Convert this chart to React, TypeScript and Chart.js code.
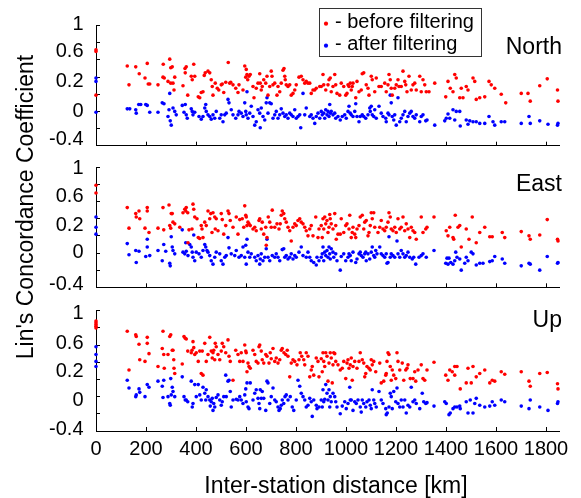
import React, { useEffect, useRef } from 'react';
import { Chart, registerables } from 'chart.js';

Chart.register(...registerables);

// ---------------- data (distance km, Lin's concordance coefficient) ----------------
const panelNames = ['North', 'East', 'Up'];
const seriesNames = ['before filtering', 'after filtering'];

const xTicks = [0, 200, 400, 600, 800, 1000, 1200, 1400, 1600, 1800];
const xTickLabels = ['0', '200', '400', '600', '800', '1000', '1200', '1400', '1600', '1800'];
const yTicks = [-0.4, -0.2, 0, 0.2, 0.4, 0.6, 0.8, 1];
const yTickLabels = ['1', '0.6', '0.2', '0', '-0.4'];

const northBefore = [
  [0,0.72],[0,0.70],[0,0.19],
  [125,0.53],[132,0.31],[159,0.52],[173,0.44],[196,0.39],[205,0.56],[209,0.32],[215,0.32],[248,0.31],[269,0.55],[268,0.40],[273,0.39],[288,0.35],[295,0.61],[299,0.51],[305,0.52],[299,0.33],[308,0.33],[312,0.25],[315,0.40],[348,0.30],[356,0.50],[357,0.45],[361,0.52],[367,0.19],[381,0.41],[385,0.37],[391,0.55],[395,0.41],[409,0.17],[415,0.16],[421,0.22],[428,0.23],[433,0.42],[437,0.45],[448,0.47],[455,0.45],[461,0.37],[465,0.29],[468,0.19],[477,0.33],[485,0.27],[491,0.25],[501,0.31],[505,0.32],[511,0.22],[519,0.34],[529,0.57],[535,0.33],[539,0.34],[548,0.31],[559,0.27],[568,0.22],[572,0.31],[588,0.25],[595,0.53],[599,0.40],[601,0.49],[604,0.43],[607,0.37],[612,0.41],[617,0.43],[628,0.29],[632,0.16],[641,0.27],[648,0.33],[655,0.44],[657,0.33],[661,0.25],[665,0.29],[671,0.37],[679,0.33],[684,0.41],[688,0.19],[695,0.29],[701,0.47],[704,0.41],[708,0.31],[715,0.33],[724,0.19],[728,0.29],[735,0.23],[741,0.33],[748,0.48],[752,0.50],[755,0.41],[757,0.37],[761,0.31],[768,0.29],[775,0.31],[781,0.19],[788,0.21],[795,0.25],[801,0.31],[812,0.40],[821,0.41],[828,0.37],[835,0.33],[841,0.35],[848,0.33],[855,0.33],[861,0.21],[868,0.25],[875,0.25],[881,0.27],[895,0.29],
  [908,0.43],[901,0.29],[911,0.31],[919,0.25],[928,0.31],[932,0.37],[937,0.39],[941,0.23],[948,0.29],[955,0.43],[959,0.31],[964,0.21],[975,0.19],[981,0.33],[991,0.29],[999,0.19],[1004,0.21],[1008,0.31],[1012,0.29],[1017,0.33],[1021,0.25],[1025,0.29],[1028,0.33],[1039,0.16],[1044,0.35],[1052,0.23],[1061,0.25],[1065,0.44],[1071,0.45],[1081,0.31],[1088,0.27],[1092,0.19],[1101,0.41],[1105,0.37],[1115,0.23],[1121,0.39],[1132,0.29],[1141,0.29],[1155,0.33],[1161,0.23],[1168,0.31],[1172,0.43],[1177,0.37],[1181,0.27],[1185,0.19],[1195,0.27],[1201,0.31],[1208,0.37],[1212,0.29],[1221,0.29],[1228,0.47],[1235,0.35],[1239,0.31],[1244,0.23],[1252,0.41],[1261,0.25],[1268,0.31],[1275,0.33],[1281,0.25],[1295,0.41],[1301,0.23],[1308,0.37],[1315,0.31],[1321,0.23],[1332,0.23],[1355,0.33],[1399,0.17],[1408,0.35],[1417,0.27],[1428,0.23],[1435,0.43],[1441,0.39],[1455,0.16],[1461,0.27],[1468,0.16],[1481,0.29],[1488,0.25],[1508,0.39],[1515,0.35],[1521,0.14],[1535,0.16],[1555,0.17],[1572,0.35],[1581,0.31],[1595,0.27],[1621,0.20],[1639,0.10],[1701,0.21],[1728,0.21],[1737,0.12],[1775,0.30],[1805,0.38],[1846,0.25],[1848,0.12],
];

const northAfter = [
  [0,0.39],[0,0.35],[0,-0.01],
  [125,0.03],[135,0.03],[159,0.02],[161,-0.02],[171,0.08],[179,0.08],[199,0.08],[205,0.07],[215,-0.01],[248,-0.01],[265,0.10],[272,0.09],[288,-0.06],[292,0.02],[295,0.21],[297,-0.11],[301,-0.16],[308,0.04],[315,0],[321,-0.04],[345,0.07],[352,-0.01],[357,0.08],[361,-0.04],[365,-0.08],[381,0.03],[385,0],[388,-0.04],[395,-0.01],[412,-0.06],[421,-0.09],[428,-0.06],[435,0.04],[439,0.08],[441,0],[448,-0.04],[455,-0.06],[461,-0.09],[468,-0.04],[475,-0.08],[481,0],[495,-0.08],[501,-0.04],[508,-0.12],[515,-0.04],[521,-0.02],[528,0.14],[532,0.10],[541,0.02],[548,-0.04],[559,-0.08],[568,-0.04],[572,0],[581,-0.02],[588,-0.06],[595,0.10],[599,0],[601,-0.04],[604,0.23],[608,-0.08],[615,-0.02],[621,0.06],[628,-0.06],[635,-0.16],[641,-0.12],[648,0.02],[655,-0.02],[657,-0.19],[661,0.04],[668,-0.06],[675,-0.10],[681,0.10],[684,0.16],[688,-0.02],[695,0.10],[701,0.09],[708,-0.08],[715,-0.04],[721,0],[728,-0.08],[735,-0.04],[741,0.03],[748,-0.02],[755,-0.06],[761,-0.04],[768,-0.08],[775,-0.02],[781,-0.04],[788,-0.06],[795,0.02],[801,-0.08],[808,-0.06],[815,-0.04],[819,-0.19],[828,0.21],[835,-0.04],[841,0.04],[855,-0.06],[861,-0.04],[868,-0.08],[875,-0.14],[881,-0.06],[888,-0.02],[895,-0.08],
  [901,0],[905,-0.04],[911,-0.02],[915,-0.08],[919,0.02],[924,-0.04],[928,0],[932,-0.06],[935,0.08],[937,-0.02],[941,0],[948,-0.04],[955,-0.02],[959,-0.08],[968,-0.06],[977,-0.10],[985,-0.06],[995,-0.04],[1001,-0.08],[1008,0],[1012,0.06],[1017,-0.02],[1021,-0.04],[1028,-0.06],[1035,0],[1039,0.09],[1044,-0.06],[1052,-0.12],[1057,-0.06],[1065,-0.04],[1071,-0.06],[1079,-0.08],[1088,-0.04],[1095,0.04],[1097,0],[1101,0.06],[1105,-0.04],[1111,-0.06],[1115,0.02],[1121,-0.08],[1132,0.06],[1141,-0.02],[1148,-0.06],[1159,-0.08],[1161,-0.12],[1168,-0.02],[1172,-0.04],[1177,0.19],[1181,0.10],[1185,-0.06],[1191,-0.10],[1195,-0.04],[1201,-0.16],[1208,0.16],[1215,-0.12],[1221,-0.08],[1228,-0.04],[1235,0],[1241,-0.12],[1248,-0.06],[1255,-0.02],[1261,0],[1268,-0.06],[1275,-0.08],[1281,-0.04],[1295,-0.12],[1301,-0.06],[1308,-0.04],[1319,-0.11],[1324,-0.10],[1355,-0.16],[1395,-0.11],[1401,-0.08],[1408,-0.03],[1415,-0.08],[1428,0.02],[1435,-0.10],[1441,0],[1455,0],[1457,-0.17],[1481,-0.10],[1488,-0.15],[1495,-0.11],[1508,-0.12],[1521,-0.12],[1535,-0.14],[1555,-0.14],[1572,-0.06],[1588,-0.12],[1595,-0.16],[1621,-0.12],[1635,-0.12],[1701,-0.14],[1732,-0.06],[1737,-0.14],[1775,-0.11],[1808,-0.15],[1846,-0.16],[1848,-0.14],
];

const eastBefore = [
  [0,0.79],[0,0.70],
  [125,0.53],[132,0.29],[159,0.46],[161,0.42],[172,0.49],[175,0.40],[196,0.29],[205,0.53],[205,0.49],[212,0.24],[248,0.29],[268,0.53],[271,0.27],[292,0.56],[295,0.32],[299,0.29],[301,0.46],[305,0.46],[308,0.36],[315,0.34],[335,0.30],[348,0.47],[355,0.51],[359,0.49],[361,0.53],[367,0.47],[372,0.27],[384,0.28],[388,0.57],[391,0.51],[395,0.42],[404,0.40],[409,0.18],[415,0.17],[421,0.32],[424,0.28],[428,0.18],[435,0.36],[441,0.32],[448,0.49],[455,0.40],[459,0.46],[464,0.24],[468,0.47],[475,0.42],[477,0.28],[481,0.40],[488,0.26],[501,0.46],[505,0.39],[511,0.22],[519,0.32],[528,0.49],[532,0.46],[537,0.38],[548,0.30],[561,0.42],[568,0.22],[575,0.39],[585,0.40],[591,0.30],[595,0.55],[599,0.44],[601,0.42],[604,0.32],[608,0.36],[612,0.34],[617,0.32],[628,0.28],[635,0.30],[641,0.26],[652,0.38],[655,0.40],[661,0.28],[665,0.36],[671,0.22],[679,0.30],[684,0.18],[689,0.42],[695,0.36],[701,0.30],[705,0.50],[715,0.30],[724,0.34],[732,0.28],[737,0.34],[741,0.44],[745,0.49],[751,0.46],[755,0.40],[761,0.36],[768,0.30],[775,0.26],[781,0.14],[788,0.30],[795,0.34],[801,0.32],[808,0.38],[815,0.40],[821,0.36],[828,0.34],[835,0.30],[841,0.26],[848,0.20],[855,0.28],[861,0.32],[868,0.20],[879,0.42],[888,0.18],[892,0.28],[368,0.12],[681,0.09],
  [901,0.32],[905,0.18],[908,0.40],[911,0.28],[915,0.42],[919,0.34],[924,0.38],[928,0.24],[932,0.30],[935,0.45],[937,0.40],[941,0.34],[948,0.28],[955,0.46],[959,0.32],[961,0.16],[968,0.22],[977,0.22],[981,0.40],[991,0.24],[999,0.32],[1004,0.34],[1012,0.28],[1015,0.44],[1021,0.18],[1025,0.24],[1028,0.30],[1035,0.22],[1039,0.18],[1044,0.28],[1052,0.32],[1057,0.42],[1065,0.44],[1071,0.28],[1075,0.36],[1081,0.38],[1088,0.20],[1092,0.24],[1097,0.32],[1101,0.47],[1105,0.40],[1111,0.47],[1115,0.30],[1128,0.24],[1135,0.30],[1141,0.38],[1148,0.28],[1155,0.26],[1161,0.30],[1168,0.36],[1172,0.47],[1177,0.42],[1181,0.28],[1188,0.26],[1195,0.30],[1201,0.24],[1208,0.40],[1215,0.28],[1221,0.30],[1228,0.42],[1235,0.26],[1241,0.34],[1248,0.28],[1255,0.18],[1261,0.30],[1268,0.26],[1275,0.24],[1281,0.16],[1301,0.42],[1308,0.24],[1319,0.28],[1324,0.30],[1352,0.42],[1401,0.26],[1408,0.20],[1415,0.30],[1428,0.18],[1431,0.16],[1437,0.44],[1448,0.30],[1455,0.32],[1461,0.07],[1481,0.28],[1492,0.16],[1505,0.42],[1521,0.12],[1535,0.24],[1555,0.30],[1575,0.19],[1585,0.19],[1625,0.24],[1635,0.18],[1701,0.25],[1732,0.20],[1737,0.16],[1775,0.21],[1805,0.39],[1846,0.16],[1848,0.14],
];

const eastAfter = [
  [0,0.42],[0,0.30],[0,0.22],
  [125,0.11],[132,-0.02],[159,0.03],[161,-0.11],[172,0.02],[199,-0.04],[205,0.07],[205,0.16],[215,-0.03],[248,0.03],[265,-0.09],[271,0.10],[279,0.02],[295,-0.12],[297,-0.15],[301,0.19],[305,0.07],[308,0.03],[315,-0.01],[345,0.27],[348,0.01],[355,-0.01],[359,0.12],[361,0.02],[368,-0.03],[375,0.10],[381,0.07],[385,0.01],[388,-0.05],[391,0.21],[395,-0.09],[401,0.01],[412,-0.01],[421,-0.05],[428,0.03],[435,0.10],[439,0.07],[444,0.03],[448,0.01],[455,-0.03],[461,-0.09],[468,-0.13],[475,-0.05],[481,0.01],[495,-0.01],[501,-0.09],[508,-0.13],[515,-0.05],[521,-0.03],[528,0.18],[532,0.06],[541,-0.01],[555,-0.03],[561,0.03],[572,-0.05],[581,-0.03],[588,0.07],[595,-0.05],[599,0.09],[601,-0.13],[604,0.16],[608,0.01],[615,-0.05],[621,-0.01],[635,-0.05],[641,-0.09],[648,-0.03],[655,-0.13],[657,-0.07],[661,-0.01],[668,-0.09],[675,-0.05],[681,0.05],[684,0.16],[688,-0.05],[695,-0.09],[705,-0.03],[715,-0.05],[721,-0.01],[728,-0.05],[735,-0.09],[745,0.04],[751,0.05],[755,-0.05],[761,-0.03],[768,-0.07],[775,-0.05],[781,-0.01],[788,-0.07],[795,-0.03],[801,-0.05],[812,0.01],[821,0.07],[828,-0.03],[841,-0.05],[848,0.01],[855,-0.05],[861,-0.09],[871,-0.11],[881,-0.14],[884,-0.05],[892,-0.09],
  [901,-0.05],[905,-0.01],[908,0.07],[911,-0.09],[915,0.01],[919,-0.03],[924,0.03],[928,-0.05],[932,0.07],[935,-0.01],[937,-0.07],[941,0.05],[948,0.01],[951,-0.05],[959,-0.01],[964,-0.09],[977,-0.20],[981,-0.04],[991,-0.01],[999,-0.09],[1008,-0.05],[1012,-0.01],[1017,-0.03],[1021,-0.09],[1028,0.01],[1039,-0.11],[1044,-0.07],[1052,-0.01],[1057,0.01],[1061,-0.03],[1068,-0.05],[1075,-0.01],[1079,0.01],[1081,-0.09],[1088,-0.01],[1095,-0.07],[1101,0.01],[1105,0.07],[1111,-0.03],[1115,-0.05],[1119,0.03],[1124,-0.01],[1135,0.07],[1141,-0.01],[1148,-0.03],[1155,-0.05],[1161,-0.01],[1164,-0.12],[1168,-0.11],[1172,0.19],[1177,-0.05],[1181,-0.01],[1188,-0.03],[1195,-0.05],[1204,0.14],[1208,-0.01],[1215,-0.05],[1221,0.03],[1228,-0.01],[1235,-0.05],[1241,-0.03],[1248,0.01],[1255,-0.05],[1265,-0.07],[1271,-0.05],[1279,-0.13],[1292,-0.05],[1301,-0.03],[1308,-0.01],[1321,-0.05],[1352,0.03],[1399,-0.12],[1404,-0.06],[1408,-0.13],[1412,-0.06],[1419,-0.11],[1428,-0.13],[1435,-0.09],[1439,0.01],[1444,-0.05],[1455,-0.07],[1461,-0.20],[1475,-0.12],[1481,-0.05],[1488,-0.09],[1501,0.01],[1508,-0.01],[1521,-0.14],[1535,-0.12],[1548,-0.12],[1575,-0.10],[1585,-0.09],[1595,-0.04],[1625,-0.07],[1635,-0.12],[1701,-0.15],[1732,-0.12],[1737,-0.13],[1775,-0.20],[1805,-0.04],[1846,-0.12],[1848,-0.11],
];

const upBefore = [
  [0,0.88],[0,0.86],[0,0.84],[0,0.82],[0,0.80],
  [125,0.76],[132,0.31],[159,0.72],[161,0.70],[172,0.61],[175,0.43],[196,0.41],[205,0.69],[205,0.62],[212,0.50],[248,0.35],[268,0.76],[265,0.56],[271,0.49],[273,0.33],[288,0.49],[295,0.70],[299,0.72],[305,0.54],[308,0.54],[311,0.43],[312,0.33],[315,0.27],[345,0.38],[352,0.70],[357,0.68],[361,0.67],[367,0.53],[381,0.51],[384,0.54],[388,0.64],[391,0.57],[395,0.49],[401,0.51],[409,0.41],[415,0.53],[421,0.27],[425,0.53],[428,0.25],[435,0.62],[441,0.41],[448,0.49],[455,0.69],[461,0.53],[465,0.45],[468,0.51],[471,0.54],[475,0.43],[477,0.62],[481,0.58],[488,0.49],[495,0.43],[501,0.53],[505,0.62],[511,0.58],[519,0.51],[528,0.66],[532,0.47],[537,0.41],[548,0.19],[559,0.54],[568,0.49],[575,0.41],[581,0.51],[588,0.41],[595,0.60],[599,0.53],[601,0.51],[604,0.29],[608,0.39],[612,0.35],[617,0.33],[628,0.54],[635,0.49],[641,0.41],[648,0.39],[652,0.58],[655,0.60],[661,0.53],[665,0.43],[671,0.39],[679,0.49],[684,0.47],[692,0.39],[697,0.51],[701,0.44],[708,0.56],[715,0.41],[721,0.45],[728,0.39],[735,0.43],[741,0.54],[745,0.56],[752,0.51],[759,0.49],[765,0.54],[768,0.47],[775,0.23],[781,0.39],[788,0.43],[795,0.41],[804,0.37],[812,0.43],[817,0.51],[823,0.47],[831,0.43],[835,0.37],[841,0.51],[848,0.47],[855,0.23],[861,0.31],[865,0.35],[871,0.25],[881,0.45],[888,0.41],[892,0.23],
  [901,0.44],[905,0.29],[908,0.51],[911,0.41],[915,0.35],[919,0.51],[924,0.47],[928,0.18],[932,0.39],[937,0.51],[941,0.45],[945,0.16],[948,0.37],[951,0.51],[955,0.50],[959,0.41],[968,0.37],[977,0.31],[985,0.33],[991,0.41],[999,0.21],[1004,0.39],[1008,0.43],[1012,0.33],[1017,0.37],[1021,0.45],[1025,0.19],[1028,0.35],[1035,0.41],[1044,0.33],[1052,0.41],[1057,0.51],[1065,0.43],[1071,0.39],[1075,0.23],[1079,0.27],[1084,0.35],[1092,0.33],[1097,0.31],[1101,0.43],[1105,0.37],[1111,0.41],[1119,0.29],[1135,0.39],[1141,0.16],[1151,0.18],[1159,0.25],[1161,0.27],[1164,0.41],[1168,0.51],[1172,0.49],[1177,0.35],[1181,0.19],[1185,0.31],[1191,0.25],[1199,0.21],[1204,0.51],[1208,0.41],[1215,0.31],[1225,0.39],[1231,0.19],[1239,0.31],[1244,0.33],[1248,0.37],[1257,0.21],[1268,0.21],[1275,0.29],[1279,0.18],[1288,0.31],[1301,0.37],[1308,0.21],[1315,0.19],[1324,0.31],[1352,0.40],[1399,0.25],[1408,0.19],[1415,0.31],[1425,0.29],[1435,0.25],[1435,0.35],[1444,0.35],[1457,0.09],[1481,0.16],[1488,0.33],[1501,0.16],[1508,0.35],[1521,0.23],[1535,0.27],[1555,0.31],[1575,0.16],[1585,0.19],[1595,0.18],[1621,0.29],[1635,0.26],[1701,0.29],[1732,0.18],[1737,0.12],[1775,0.27],[1805,0.28],[1846,0.15],[1848,0.09],
];

const upAfter = [
  [0,0.58],[0,0.49],[0,0.41],[0,0.35],
  [125,0.19],[132,0.10],[159,0],[161,0.02],[172,0.09],[175,0.05],[196,0],[205,0.14],[212,0.11],[248,0.18],[265,0.12],[268,-0.01],[271,0.19],[288,0],[295,-0.08],[297,-0.10],[299,0.21],[301,0.02],[305,0.11],[308,0.06],[315,0],[345,0.23],[352,0],[357,-0.04],[361,-0.04],[367,-0.06],[381,0.18],[385,-0.12],[388,-0.08],[395,0.14],[401,0],[409,0.14],[415,0.02],[421,-0.04],[428,0.11],[435,0.04],[439,-0.04],[441,0.08],[448,0],[455,-0.04],[457,-0.11],[461,-0.06],[465,-0.02],[468,-0.16],[471,-0.08],[475,-0.12],[481,-0.01],[488,0.02],[495,-0.04],[501,-0.10],[505,-0.06],[511,0],[519,0.25],[521,0],[528,0.18],[532,0.19],[537,0.06],[541,-0.12],[548,-0.04],[561,-0.03],[568,-0.04],[575,0],[581,-0.04],[588,-0.08],[595,0.02],[599,0.09],[601,-0.06],[604,0.16],[608,-0.12],[612,-0.14],[617,0.16],[628,-0.04],[635,0.04],[641,0.08],[648,-0.02],[652,-0.08],[655,-0.14],[657,0.08],[661,-0.02],[665,0.06],[671,-0.02],[679,-0.16],[684,0.18],[688,0.16],[695,-0.08],[701,0],[708,0.10],[715,-0.04],[721,-0.06],[728,-0.12],[732,-0.16],[737,-0.14],[741,-0.10],[745,-0.04],[751,-0.08],[756,0],[761,0.02],[768,-0.04],[777,0],[785,-0.12],[791,-0.16],[801,-0.04],[808,0.19],[815,0.12],[821,0.04],[828,0],[835,-0.04],[841,-0.12],[848,-0.10],[855,-0.02],[861,-0.06],[865,-0.23],[871,-0.04],[881,-0.10],[884,-0.14],[892,-0.12],
  [901,-0.04],[905,-0.12],[908,0.08],[911,-0.06],[915,-0.03],[919,0.14],[924,0.04],[928,-0.04],[932,0.08],[935,-0.12],[937,0],[941,-0.06],[948,0.04],[955,0],[959,-0.06],[964,-0.12],[977,-0.20],[985,-0.11],[995,-0.06],[1001,-0.14],[1008,-0.08],[1015,0.11],[1017,-0.04],[1021,-0.04],[1028,-0.16],[1035,-0.06],[1041,-0.08],[1048,-0.04],[1057,-0.12],[1061,-0.18],[1065,-0.04],[1071,-0.08],[1079,-0.12],[1084,-0.06],[1092,-0.04],[1097,-0.10],[1101,-0.14],[1105,0.08],[1111,-0.04],[1115,-0.08],[1121,-0.12],[1132,0.06],[1141,-0.04],[1148,-0.08],[1159,-0.14],[1161,-0.21],[1165,-0.19],[1172,-0.12],[1177,0.04],[1181,0],[1185,-0.14],[1191,0.06],[1199,-0.06],[1204,0.10],[1208,-0.08],[1215,-0.12],[1221,-0.04],[1228,-0.12],[1235,-0.04],[1241,-0.19],[1248,-0.10],[1255,-0.12],[1261,0.11],[1268,-0.06],[1275,-0.04],[1281,-0.08],[1295,-0.14],[1305,0.04],[1311,-0.06],[1319,-0.08],[1324,-0.07],[1352,-0.11],[1395,-0.06],[1401,-0.08],[1412,-0.21],[1417,-0.19],[1428,-0.14],[1435,-0.12],[1444,-0.12],[1455,-0.11],[1457,-0.14],[1481,-0.06],[1488,-0.19],[1497,-0.04],[1508,-0.19],[1515,-0.08],[1521,-0.02],[1535,-0.10],[1555,-0.12],[1575,-0.11],[1585,-0.06],[1595,-0.10],[1621,-0.04],[1635,-0.06],[1701,-0.11],[1732,-0.14],[1737,-0.04],[1775,-0.12],[1808,-0.16],[1846,-0.08],[1848,-0.06],
];

const beforeSeries = [northBefore, eastBefore, upBefore];
const afterSeries = [northAfter, eastAfter, upAfter];

// ---------------- layout / style ----------------
const W = 581;
const H = 498;
const FONT = '"Liberation Sans", Arial, Helvetica, sans-serif';
const RED = '#ff0000';
const BLUE = '#0000ff';
const PLOT_LEFT = 96;
const PLOT_RIGHT = 559;
const X_MAX = 1852;
const PANEL_TOP = [25.7, 167.3, 310.7];
const PANEL_BOTTOM = [145.7, 287.3, 431];
const X_AXIS_H = 40;
const POINT_R = 1.8;
// where the (shifted) y tick labels sit on each panel's axis, in axis units
const Y_LABEL_AT = [
  [1.016, 0.70, 0.35, 0, -0.33],
  [0.984, 0.66, 0.327, 0.004, -0.366],
  [0.965, 0.62, 0.29, -0.04, -0.38],
];
const NAME_BASELINE = [54, 191, 326.5];

const pts = (a: number[][]) => a.map(([x, y]) => ({ x, y }));

function extrasPlugin(idx: number) {
  return {
    id: 'extras' + idx,
    afterDraw(chart: any) {
      const ctx = chart.ctx as CanvasRenderingContext2D;
      ctx.save();
      ctx.fillStyle = '#000';
      ctx.font = `23px ${FONT}`;
      ctx.textAlign = 'right';
      ctx.textBaseline = 'alphabetic';
      ctx.fillText(panelNames[idx], 562, NAME_BASELINE[idx]);

      if (idx === 0) {
        // legend box
        ctx.fillStyle = '#fff';
        ctx.fillRect(319.5, 8.5, 162, 48);
        ctx.strokeStyle = '#333';
        ctx.lineWidth = 1;
        ctx.strokeRect(319.5, 8.5, 162, 48);
        ctx.font = `20px ${FONT}`;
        ctx.textAlign = 'left';
        chart.data.datasets.forEach((ds: any, i: number) => {
          const y = 27.5 + i * 22;
          ctx.fillStyle = ds.backgroundColor;
          ctx.beginPath();
          ctx.arc(326, y - 3.8, 2.1, 0, Math.PI * 2);
          ctx.fill();
          ctx.fillStyle = '#000';
          ctx.fillText('- ' + ds.label, 335, y);
        });
      }

      if (idx === 2) {
        ctx.fillStyle = '#000';
        ctx.font = `23px ${FONT}`;
        ctx.textAlign = 'center';
        ctx.textBaseline = 'alphabetic';
        ctx.fillText('Inter-station distance [km]', 336, 493);
        ctx.save();
        ctx.translate(33, 207);
        ctx.rotate(-Math.PI / 2);
        ctx.fillText("Lin's Concordance Coefficient", 0, 0);
        ctx.restore();
      }
      ctx.restore();
    },
  };
}

function makeConfig(idx: number): any {
  const showX = idx === 2;
  const tickFont = { family: FONT, size: 20 };
  const axisLine = { display: true, color: '#000', width: 1 };
  return {
    type: 'scatter',
    data: {
      datasets: [
        { label: seriesNames[0], data: pts(beforeSeries[idx]), backgroundColor: RED, borderWidth: 0, pointRadius: POINT_R, clip: false },
        { label: seriesNames[1], data: pts(afterSeries[idx]), backgroundColor: BLUE, borderWidth: 0, pointRadius: POINT_R, clip: false },
      ],
    },
    options: {
      animation: false,
      responsive: false,
      events: [],
      layout: {
        padding: {
          left: 0,
          right: W - PLOT_RIGHT,
          top: PANEL_TOP[idx],
          bottom: H - PANEL_BOTTOM[idx] - (showX ? X_AXIS_H : 0),
        },
      },
      plugins: { legend: { display: false }, tooltip: { enabled: false } },
      scales: {
        x: {
          type: 'linear',
          position: 'bottom',
          min: 0,
          max: X_MAX,
          afterBuildTicks: (s: any) => { s.ticks = xTicks.map((v) => ({ value: v })); },
          afterFit: (s: any) => { s.height = showX ? X_AXIS_H : 0; },
          grid: { drawOnChartArea: false, drawTicks: true, tickLength: -4, color: '#000', lineWidth: 1 },
          border: axisLine,
          ticks: {
            display: showX,
            autoSkip: false,
            maxRotation: 0,
            color: '#000',
            font: tickFont,
            padding: 10,
            callback: (_v: any, i: number) => xTickLabels[i],
          },
        },
        y: {
          type: 'linear',
          position: 'left',
          weight: 0,
          min: -0.4,
          max: 1,
          afterBuildTicks: (s: any) => { s.ticks = yTicks.map((v) => ({ value: v })); },
          afterFit: (s: any) => { s.width = 0; },
          grid: { drawOnChartArea: false, drawTicks: true, tickLength: -4, color: '#000', lineWidth: 1 },
          border: axisLine,
          ticks: { display: false },
        },
        yLabels: {
          type: 'linear',
          position: 'left',
          weight: 1,
          min: -0.4,
          max: 1,
          afterBuildTicks: (s: any) => { s.ticks = Y_LABEL_AT[idx].map((v) => ({ value: v })); },
          afterFit: (s: any) => { s.width = PLOT_LEFT; },
          grid: { display: false, drawTicks: false },
          border: { display: false },
          ticks: {
            autoSkip: false,
            color: '#000',
            font: tickFont,
            padding: 12.5,
            callback: (_v: any, i: number) => yTickLabels[i],
          },
        },
      },
    },
    plugins: [extrasPlugin(idx)],
  };
}

export default function App() {
  const r0 = useRef<HTMLCanvasElement>(null);
  const r1 = useRef<HTMLCanvasElement>(null);
  const r2 = useRef<HTMLCanvasElement>(null);

  useEffect(() => {
    const refs = [r0, r1, r2];
    const charts = refs.map((r, i) => new Chart(r.current as HTMLCanvasElement, makeConfig(i)));
    return () => charts.forEach((c) => c.destroy());
  }, []);

  const cs: React.CSSProperties = { position: 'absolute', left: 0, top: 0, width: W, height: H, display: 'block' };
  return (
    <div style={{ position: 'absolute', left: 0, top: 0, width: W, height: H, background: '#fff' }}>
      <canvas ref={r0} width={W} height={H} style={cs} />
      <canvas ref={r1} width={W} height={H} style={cs} />
      <canvas ref={r2} width={W} height={H} style={cs} />
    </div>
  );
}
